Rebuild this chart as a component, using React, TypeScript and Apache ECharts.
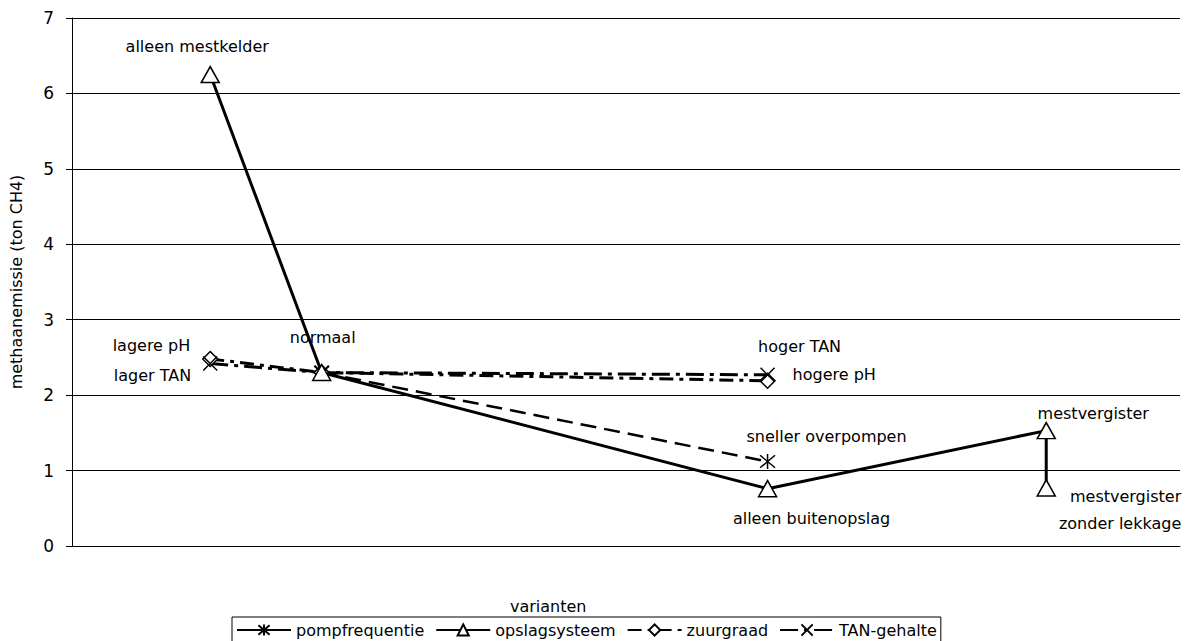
import React, { useEffect, useRef } from "react";
import * as echarts from "echarts";

// Horizontal positions of the variant groups (hidden value axis)
const opslagX = [1, 2, 6, 8.5, 8.5];
const opslagY = [6.25, 2.3, 0.76, 1.53, 0.77];
const opslagLabels = [
  "alleen mestkelder",
  "normaal",
  "alleen buitenopslag",
  "mestvergister",
  "mestvergister\nzonder lekkage",
];

const pompX = [2, 6];
const pompY = [2.3, 1.12];
const pompLabels = ["", "sneller overpompen"];

const zuurX = [1, 2, 6];
const zuurY = [2.48, 2.3, 2.19];
const zuurLabels = ["lagere pH", "", "hogere pH"];

const tanX = [1, 2, 6];
const tanY = [2.42, 2.3, 2.27];
const tanLabels = ["lager TAN", "", "hoger TAN"];

const yTicks = [0, 1, 2, 3, 4, 5, 6, 7];

// Label placement relative to each point: [dx, dy, align]
const labelPlacement: Record<string, [number, number, string]> = {
  "alleen mestkelder": [-13, -28, "center"],
  normaal: [1, -35, "center"],
  "alleen buitenopslag": [44, 30, "center"],
  mestvergister: [47, -17, "center"],
  "mestvergister\nzonder lekkage": [135, 22, "right"],
  "sneller overpompen": [59, -25, "center"],
  "lagere pH": [-20, -13, "right"],
  "hogere pH": [25, -6, "left"],
  "lager TAN": [-19, 12, "right"],
  "hoger TAN": [32, -28, "center"],
};

const FONT = "DejaVu Sans";
const ASTERISK = "path://M0,0 L10,10 M10,0 L0,10 M5,-1 L5,11";
const CROSS = "path://M0,0 L10,10 M10,0 L0,10";

function buildData(xs: number[], ys: number[], labels: string[]) {
  return xs.map((x, i) => {
    const text = labels[i];
    if (!text) return { value: [x, ys[i]] };
    const [dx, dy, align] = labelPlacement[text];
    return {
      value: [x, ys[i]],
      label: {
        show: true,
        position: "inside",
        offset: [dx, dy],
        align,
        verticalAlign: "middle",
        formatter: text,
        fontFamily: FONT,
        fontSize: 16,
        lineHeight: 27,
        color: "#000",
      },
    };
  });
}

export default function App() {
  const ref = useRef<HTMLDivElement>(null);

  useEffect(() => {
    if (!ref.current) return;
    const chart = echarts.init(ref.current, null, { renderer: "svg" });
    const markerStyle = { color: "#fff", borderColor: "#000", borderWidth: 1.5 };
    chart.setOption({
      animation: false,
      backgroundColor: "#fff",
      grid: { left: 72, right: 11, top: 18, bottom: 95 },
      xAxis: {
        type: "value",
        min: -0.24,
        max: 9.7,
        axisLine: { show: true, onZero: false, lineStyle: { color: "#000", width: 1 } },
        axisTick: { show: false },
        axisLabel: { show: false },
        splitLine: { show: false },
      },
      yAxis: {
        type: "value",
        min: yTicks[0],
        max: yTicks[yTicks.length - 1],
        interval: 1,
        name: "methaanemissie (ton CH4)",
        nameLocation: "middle",
        nameGap: 48,
        nameTextStyle: { fontFamily: FONT, fontSize: 16, color: "#000" },
        axisLine: { show: true, onZero: false, lineStyle: { color: "#000", width: 1 } },
        axisTick: { show: true, inside: false, length: 6, lineStyle: { color: "#000" } },
        axisLabel: { fontFamily: FONT, fontSize: 17, color: "#000", margin: 18 },
        splitLine: { show: true, lineStyle: { color: "#000", width: 1 } },
      },
      legend: {
        left: 232,
        top: 617,
        orient: "horizontal",
        borderColor: "#000",
        borderWidth: 1,
        borderRadius: 0,
        padding: [5, 4],
        itemGap: 11,
        itemWidth: 54,
        itemHeight: 14,
        textStyle: { fontFamily: FONT, fontSize: 16, color: "#000" },
        data: [
          { name: "pompfrequentie", lineStyle: { type: "solid" } },
          { name: "opslagsysteem" },
          { name: "zuurgraad" },
          { name: "TAN-gehalte" },
        ],
      },
      graphic: [
        {
          type: "text",
          left: 510,
          top: 598,
          style: { text: "varianten", font: `16px '${FONT}'`, fill: "#000" },
        },
      ],
      series: [
        {
          name: "pompfrequentie",
          type: "line",
          data: buildData(pompX, pompY, pompLabels),
          symbol: ASTERISK,
          symbolSize: 15,
          itemStyle: markerStyle,
          lineStyle: { color: "#000", width: 2.5, type: [16, 8] },
          z: 3,
        },
        {
          name: "opslagsysteem",
          type: "line",
          data: buildData(opslagX, opslagY, opslagLabels),
          symbol: "triangle",
          symbolSize: [18, 16],
          itemStyle: markerStyle,
          lineStyle: { color: "#000", width: 3, type: "solid" },
          z: 4,
        },
        {
          name: "zuurgraad",
          type: "line",
          data: buildData(zuurX, zuurY, zuurLabels),
          symbol: "diamond",
          symbolSize: 15,
          itemStyle: markerStyle,
          lineStyle: { color: "#000", width: 3, type: [14, 6, 4, 6] },
          z: 2,
        },
        {
          name: "TAN-gehalte",
          type: "line",
          data: buildData(tanX, tanY, tanLabels),
          symbol: CROSS,
          symbolSize: 14,
          itemStyle: markerStyle,
          lineStyle: { color: "#000", width: 3, type: [18, 6, 4, 6] },
          z: 2,
        },
      ],
    });
    return () => chart.dispose();
  }, []);

  return (
    <div
      ref={ref}
      style={{ position: "fixed", left: 0, top: 0, width: 1191, height: 641 }}
    />
  );
}
